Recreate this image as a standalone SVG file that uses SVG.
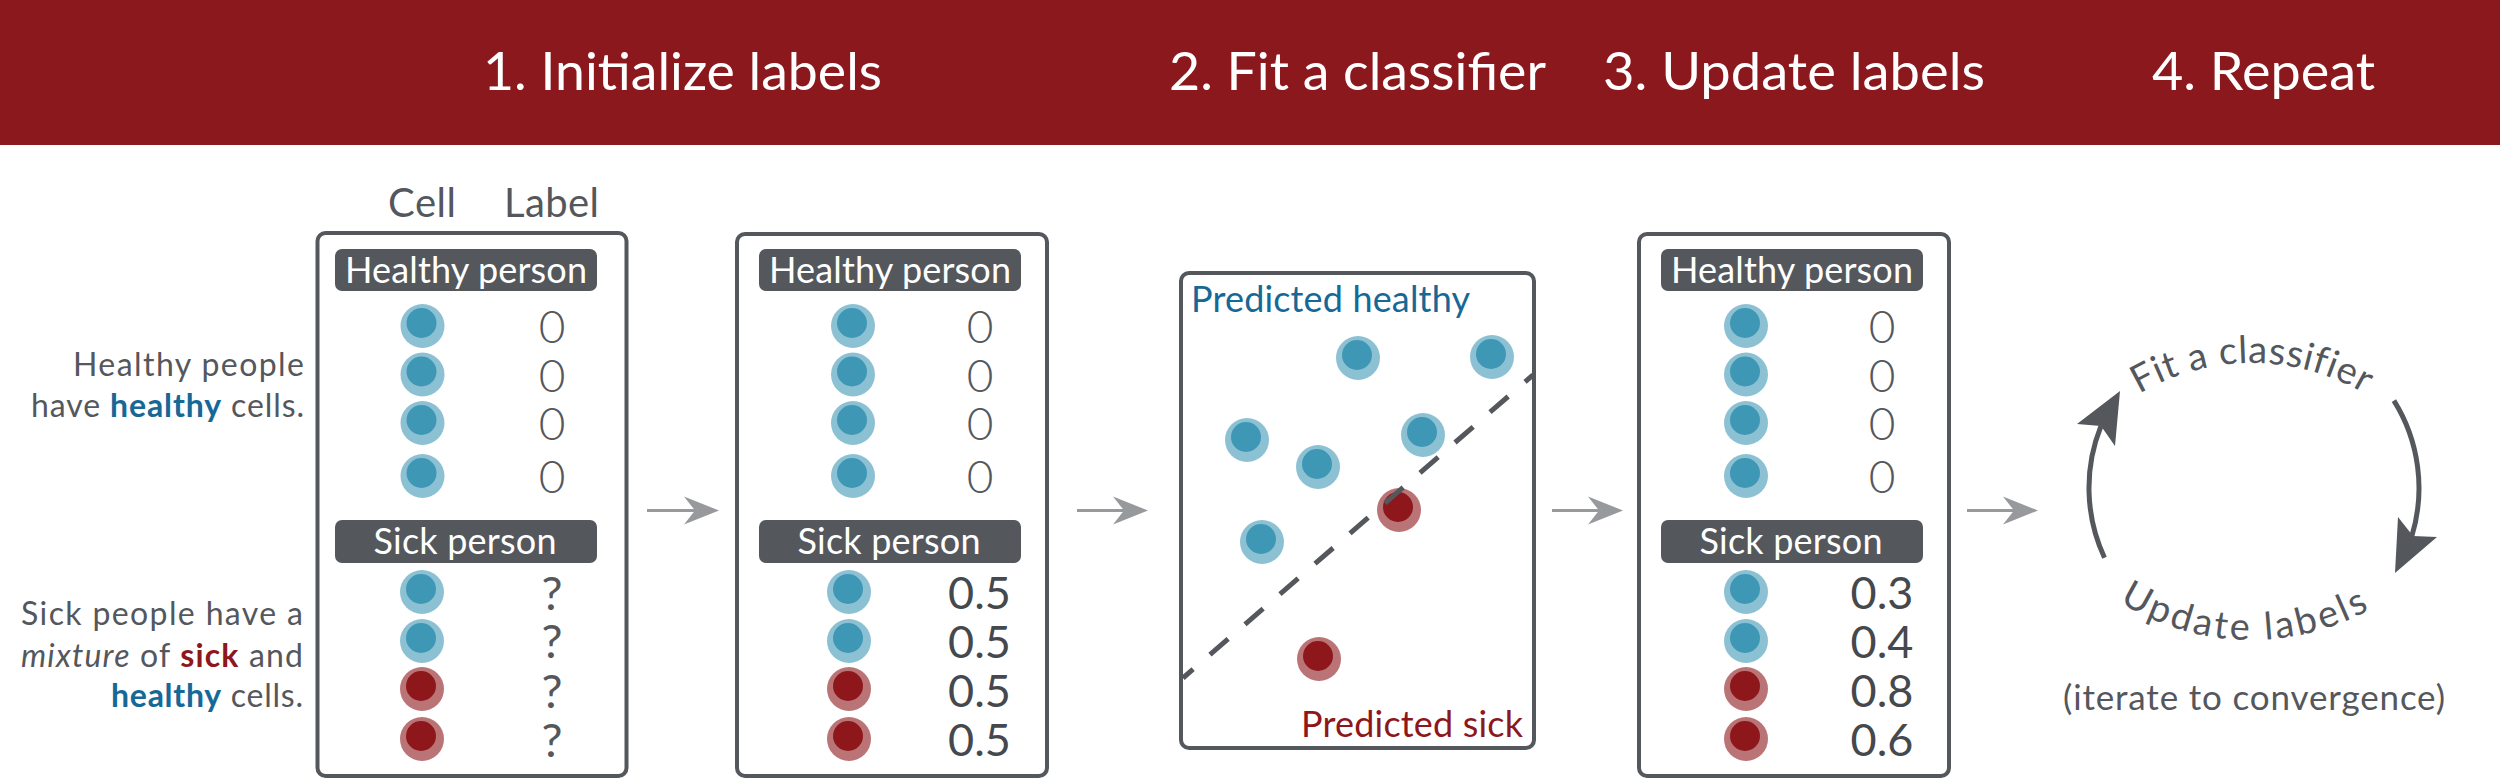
<svg xmlns="http://www.w3.org/2000/svg" xmlns:xlink="http://www.w3.org/1999/xlink" width="2500" height="779" viewBox="0 0 2500 779">
<style>
text{font-family:Lato,"Open Sans","Liberation Sans",sans-serif}
.hdr{fill:#ffffff;font-size:53px}
.box{fill:#ffffff;stroke:#54575c;stroke-width:4}
.bar{fill:#54575c}
.bt{fill:#ffffff;font-size:36px;text-anchor:middle}
.z{fill:#54575c;font-size:46px;font-weight:300;text-anchor:middle}
.v{fill:#45484d;font-size:45px;text-anchor:middle}
.q{fill:#54575c;font-size:47px;text-anchor:middle}
.desc{fill:#54575c;font-size:32px;text-anchor:end}
.colh{fill:#54575c;font-size:40px}
.hb{fill:#166896;font-weight:700}
.sb{fill:#8d171b;font-weight:700}
.conn{stroke:#97999c;stroke-width:3;fill:none}
.cyc{stroke:#54575c;stroke-width:5;fill:none}
.cychead{fill:#54575c}
.cyct{fill:#54575c;font-size:38px}
.dash{stroke:#54575c;stroke-width:5;stroke-dasharray:24 22.3;stroke-dashoffset:10.6;fill:none}
</style>
<defs>
<g id="cellH"><circle r="22" fill="#3f97b6" fill-opacity="0.6"/><circle cx="-1" cy="-3" r="15" fill="#3f97b6"/></g>
<g id="cellS"><circle r="22" fill="#8d171b" fill-opacity="0.6"/><circle cx="-1" cy="-3" r="15" fill="#8d171b"/></g>
<marker id="ah" markerUnits="userSpaceOnUse" markerWidth="36" markerHeight="30" viewBox="0 0 36 30" refX="22" refY="15" orient="auto">
<path d="M1,1 L36,15 L1,29 L12,15 Z" fill="#97999c"/>
</marker>
<path id="arcTop" d="M2031,584 A221,221 0 0 1 2473,584"/>
<path id="arcBot" d="M2005,394 A246,246 0 0 0 2497,394"/>
</defs>

<g id="header">
<rect x="0" y="0" width="2500" height="145" fill="#8b181c"/>
<text class="hdr" x="483" y="90" textLength="399" lengthAdjust="spacingAndGlyphs">1. Initialize labels</text>
<text class="hdr" x="1169" y="90" textLength="377" lengthAdjust="spacingAndGlyphs">2. Fit a classifier</text>
<text class="hdr" x="1603" y="90" textLength="382" lengthAdjust="spacingAndGlyphs">3. Update labels</text>
<text class="hdr" x="2152" y="90" textLength="223" lengthAdjust="spacingAndGlyphs">4. Repeat</text>
</g>

<g id="descriptions">
<text class="colh" x="388" y="217" textLength="68">Cell</text>
<text class="colh" x="504" y="217" textLength="95">Label</text>
<text class="desc" x="304" y="376" textLength="231">Healthy people</text>
<text class="desc" x="304" y="417" textLength="273">have <tspan class="hb">healthy</tspan> cells.</text>
<text class="desc" x="303" y="625" textLength="282">Sick people have a</text>
<text class="desc" x="303" y="667" textLength="282"><tspan font-style="italic">mixture</tspan> of <tspan class="sb">sick</tspan> and</text>
<text class="desc" x="303" y="707" textLength="192"><tspan class="hb">healthy</tspan> cells.</text>
</g>

<g id="box1">
<rect class="box" x="317.5" y="233" width="309" height="543" rx="8"/>
<rect class="bar" x="335" y="249" width="262" height="42" rx="7"/>
<text class="bt" x="466" y="283" textLength="242">Healthy person</text>
<use xlink:href="#cellH" x="422.5" y="326"/>
<use xlink:href="#cellH" x="422.5" y="374.5"/>
<use xlink:href="#cellH" x="422.5" y="423"/>
<use xlink:href="#cellH" x="422.5" y="476"/>
<text class="z" x="552" y="343">0</text>
<text class="z" x="552" y="391.5">0</text>
<text class="z" x="552" y="440">0</text>
<text class="z" x="552" y="493">0</text>
<rect class="bar" x="335" y="520" width="262" height="43" rx="7"/>
<text class="bt" x="465" y="554" textLength="183">Sick person</text>
<use xlink:href="#cellH" x="422" y="592"/>
<use xlink:href="#cellH" x="422" y="641"/>
<use xlink:href="#cellS" x="422" y="689"/>
<use xlink:href="#cellS" x="422" y="739"/>
<text class="q" x="552" y="610">?</text>
<text class="q" x="552" y="658">?</text>
<text class="q" x="552" y="708">?</text>
<text class="q" x="552" y="757">?</text>
</g>

<g id="box2">
<rect class="box" x="737" y="234" width="310" height="542" rx="8"/>
<rect class="bar" x="759" y="249" width="262" height="42" rx="7"/>
<text class="bt" x="890" y="283" textLength="242">Healthy person</text>
<use xlink:href="#cellH" x="853" y="326"/>
<use xlink:href="#cellH" x="853" y="374.5"/>
<use xlink:href="#cellH" x="853" y="423"/>
<use xlink:href="#cellH" x="853" y="476"/>
<text class="z" x="980" y="343">0</text>
<text class="z" x="980" y="391.5">0</text>
<text class="z" x="980" y="440">0</text>
<text class="z" x="980" y="493">0</text>
<rect class="bar" x="759" y="520" width="262" height="43" rx="7"/>
<text class="bt" x="889" y="554" textLength="183">Sick person</text>
<use xlink:href="#cellH" x="849" y="592"/>
<use xlink:href="#cellH" x="849" y="641"/>
<use xlink:href="#cellS" x="849" y="689"/>
<use xlink:href="#cellS" x="849" y="739"/>
<text class="v" x="979.5" y="609">0.5</text>
<text class="v" x="979.5" y="658">0.5</text>
<text class="v" x="979.5" y="707">0.5</text>
<text class="v" x="979.5" y="756">0.5</text>
</g>

<g id="box3">
<rect class="box" x="1181" y="273" width="353" height="475" rx="8"/>
<text x="1191" y="312" font-size="36" fill="#166896" textLength="279">Predicted healthy</text>
<text x="1301" y="737" font-size="36" fill="#8d171b" textLength="222">Predicted sick</text>
<use xlink:href="#cellH" x="1358" y="358"/>
<use xlink:href="#cellH" x="1492" y="357"/>
<use xlink:href="#cellH" x="1247" y="440"/>
<use xlink:href="#cellH" x="1318" y="467"/>
<use xlink:href="#cellH" x="1423" y="435"/>
<use xlink:href="#cellH" x="1262" y="542"/>
<use xlink:href="#cellS" x="1399" y="510"/>
<use xlink:href="#cellS" x="1319" y="659"/>
<line class="dash" x1="1183" y1="678" x2="1533" y2="375"/>
</g>

<g id="box4">
<rect class="box" x="1639" y="234" width="310" height="542" rx="8"/>
<rect class="bar" x="1661" y="249" width="262" height="42" rx="7"/>
<text class="bt" x="1792" y="283" textLength="242">Healthy person</text>
<use xlink:href="#cellH" x="1746" y="326"/>
<use xlink:href="#cellH" x="1746" y="374.5"/>
<use xlink:href="#cellH" x="1746" y="423"/>
<use xlink:href="#cellH" x="1746" y="476"/>
<text class="z" x="1882" y="343">0</text>
<text class="z" x="1882" y="391.5">0</text>
<text class="z" x="1882" y="440">0</text>
<text class="z" x="1882" y="493">0</text>
<rect class="bar" x="1661" y="520" width="262" height="43" rx="7"/>
<text class="bt" x="1791" y="554" textLength="183">Sick person</text>
<use xlink:href="#cellH" x="1746" y="592"/>
<use xlink:href="#cellH" x="1746" y="641"/>
<use xlink:href="#cellS" x="1746" y="689"/>
<use xlink:href="#cellS" x="1746" y="739"/>
<text class="v" x="1882" y="609">0.3</text>
<text class="v" x="1882" y="658">0.4</text>
<text class="v" x="1882" y="707">0.8</text>
<text class="v" x="1882" y="756">0.6</text>
</g>

<g id="repeat">
<text class="cyct" letter-spacing="0.6"><textPath xlink:href="#arcTop" startOffset="50%" text-anchor="middle">Fit a classifier</textPath></text>
<text class="cyct" letter-spacing="3"><textPath xlink:href="#arcBot" startOffset="49.2%" text-anchor="middle">Update labels</textPath></text>
<text x="2254" y="710" font-size="35" fill="#54575c" text-anchor="middle" textLength="382">(iterate to convergence)</text>
</g>

<g id="connectors">
<line class="conn" x1="647" y1="510.5" x2="705" y2="510.5" marker-end="url(#ah)"/>
<line class="conn" x1="1077" y1="510.5" x2="1134" y2="510.5" marker-end="url(#ah)"/>
<line class="conn" x1="1552" y1="510.5" x2="1609" y2="510.5" marker-end="url(#ah)"/>
<line class="conn" x1="1967" y1="510.5" x2="2024" y2="510.5" marker-end="url(#ah)"/>
<path class="cyc" d="M2104.5,557.7 A165,165 0 0 1 2101,426"/>
<polygon class="cychead" points="2120,391 2077,424 2101,426 2115,446"/>
<path class="cyc" d="M2393.9,400.6 A165,165 0 0 1 2411.8,536.2"/>
<polygon class="cychead" points="2395,573 2398,517 2413,536 2437,537"/>
</g>
</svg>
